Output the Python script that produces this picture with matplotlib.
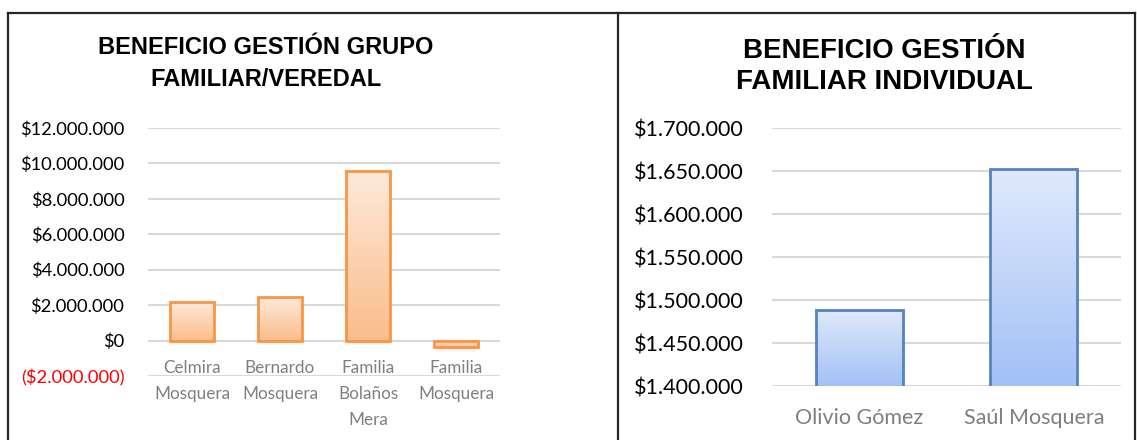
import numpy as np
import matplotlib
matplotlib.use('Agg')
import matplotlib.pyplot as plt
from matplotlib.lines import Line2D
from matplotlib.patches import Rectangle

# data
grupo_cats = ['Celmira\nMosquera', 'Bernardo\nMosquera', 'Familia\nBolaños\nMera', 'Familia\nMosquera']
grupo_vals = [2200000, 2480000, 9580000, -390000]
grupo_ticks = [-2000000, 0, 2000000, 4000000, 6000000, 8000000, 10000000, 12000000]

indiv_cats = ['Olivio Gómez', 'Saúl Mosquera']
indiv_vals = [1488000, 1652000]
indiv_ticks = [1400000, 1450000, 1500000, 1550000, 1600000, 1650000, 1700000]

W, H = 1137, 440
body_font = 'Lato'


def money(v):
    s = '${:,.0f}'.format(abs(v)).replace(',', '.')
    return '(' + s + ')' if v < 0 else s


def px(x, y):
    # pixel coords (top-left origin) -> figure fraction
    return x / W, 1 - y / H


def gradient_bars(ax, vals, top_col, bot_col, edge, width=0.5):
    grad = np.linspace(0, 1, 256).reshape(-1, 1)
    c1 = np.array(matplotlib.colors.to_rgb(top_col))
    c2 = np.array(matplotlib.colors.to_rgb(bot_col))
    img = c1 + (c2 - c1) * grad[:, :, None]
    bars = ax.bar(range(len(vals)), vals, width=width,
                  facecolor='none', edgecolor=edge, linewidth=2, zorder=3)
    base = ax.get_ylim()[0]
    for b in bars:
        x0 = b.get_x()
        y0 = b.get_y()
        h = b.get_height()
        lo, hi = min(y0, y0 + h), max(y0, y0 + h)
        if base > 0:
            lo = base
        im = ax.imshow(img, extent=[x0, x0 + width, lo, hi], aspect='auto',
                       origin='upper', zorder=2, interpolation='bilinear')
        im.set_clip_path(b)
    return bars


fig = plt.figure(figsize=(W / 100, H / 100), dpi=100)

# ---- left chart
ax1 = fig.add_axes([148 / W, 64 / H, 352 / W, 248 / H])
ax1.set_xlim(-0.5, 3.5)
ax1.set_ylim(-2000000, 12000000)
bars1 = gradient_bars(ax1, grupo_vals, '#fde9da', '#fbbd8a', '#f79646')
# soft shadow under the bars
for b in bars1:
    yb = min(b.get_y(), b.get_y() + b.get_height())
    for k, a in enumerate([0.18, 0.10, 0.05]):
        ax1.add_patch(Rectangle((b.get_x() + 0.02, yb - (k + 1) * 90000), 0.5 - 0.04, 90000,
                                facecolor='gray', edgecolor='none', alpha=a, zorder=1.5))
ax1.set_yticks(grupo_ticks)
ax1.set_yticklabels([money(v) for v in grupo_ticks])
for lab, v in zip(ax1.get_yticklabels(), grupo_ticks):
    lab.set_color('red' if v < 0 else 'black')
    lab.set_fontfamily(body_font)
    lab.set_fontsize(13.2)
ax1.set_xticks([])
for i, c in enumerate(grupo_cats):
    ax1.annotate(c, (i, 0), xytext=(0, -14), textcoords='offset points', ha='center', va='top',
                 color='#7f7f7f', fontsize=12.3, family=body_font, linespacing=1.78,
                 annotation_clip=False)
ax1.grid(axis='y', color='#d9d9d9', linewidth=1.5, zorder=0)
ax1.set_axisbelow(True)
ax1.tick_params(axis='y', length=0, pad=17)
for s in ax1.spines.values():
    s.set_visible(False)

# ---- right chart
ax2 = fig.add_axes([772 / W, 54 / H, 349 / W, 258 / H])
ax2.set_xlim(-0.5, 1.5)
ax2.set_ylim(1400000, 1700000)
gradient_bars(ax2, indiv_vals, '#dfe9fb', '#a3c1f6', '#5582c2')
ax2.set_yticks(indiv_ticks)
ax2.set_yticklabels([money(v) for v in indiv_ticks], fontsize=15.5, family=body_font)
ax2.set_xticks(range(len(indiv_cats)))
ax2.set_xticklabels(indiv_cats, fontsize=15.5, family=body_font, color='#7f7f7f')
ax2.grid(axis='y', color='#d9d9d9', linewidth=1.5, zorder=0)
ax2.set_axisbelow(True)
ax2.tick_params(axis='y', length=0, pad=20.5)
ax2.tick_params(axis='x', length=0, pad=16)
for s in ax2.spines.values():
    s.set_visible(False)

# ---- titles
x, y = px(266, 47)
fig.text(x, y, 'BENEFICIO GESTIÓN GRUPO', ha='center', va='center', fontsize=17,
         family='Liberation Sans', weight='bold')
x, y = px(266, 79)
fig.text(x, y, 'FAMILIAR/VEREDAL', ha='center', va='center', fontsize=17,
         family='Liberation Sans', weight='bold')
x, y = px(884, 51)
fig.text(x, y, 'BENEFICIO GESTIÓN', ha='center', va='center', fontsize=19.9,
         family='Liberation Sans', weight='bold')
x, y = px(884, 82)
fig.text(x, y, 'FAMILIAR INDIVIDUAL', ha='center', va='center', fontsize=19.9,
         family='Liberation Sans', weight='bold')

# ---- panel borders
for (xa, ya), (xb, yb) in [((8, 13), (1135, 13)), ((8, 13), (8, 440)),
                           ((618, 13), (618, 440)), ((1135, 13), (1135, 440))]:
    fig.add_artist(Line2D([xa / W, xb / W], [1 - ya / H, 1 - yb / H], color='#262626',
                          linewidth=1.6, transform=fig.transFigure))

fig.savefig('out.png', dpi=100)
